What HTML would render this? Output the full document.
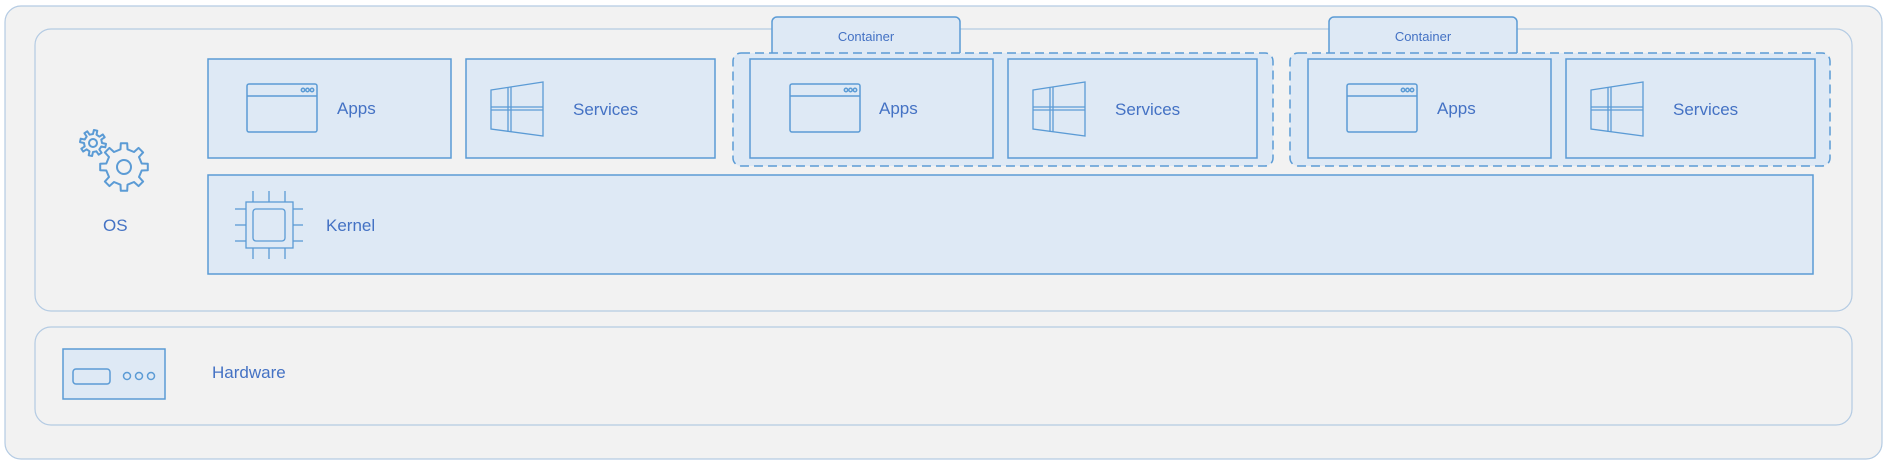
<!DOCTYPE html>
<html><head><meta charset="utf-8"><style>
html,body{margin:0;padding:0;background:#fff;width:1889px;height:465px;overflow:hidden}
svg{display:block}
text{font-family:"Liberation Sans",sans-serif;fill:#4472c4}
</style></head><body>
<svg width="1889" height="465" viewBox="0 0 1889 465" xmlns="http://www.w3.org/2000/svg">
<defs>
<g id="win" fill="none" stroke="#5b9bd5" stroke-width="1.3">
<polygon points="0,8 52,0 52,54 0,47"/>
<line x1="17" y1="5" x2="17" y2="50"/><line x1="20" y1="5" x2="20" y2="50"/>
<line x1="0" y1="25" x2="52" y2="25"/><line x1="0" y1="28" x2="52" y2="28"/>
</g>
<g id="app" fill="none" stroke="#5b9bd5" stroke-width="1.5">
<rect x="0" y="0" width="70" height="48" rx="2"/>
<line x1="0" y1="12" x2="70" y2="12"/>
<circle cx="56" cy="6" r="1.7"/><circle cx="60.5" cy="6" r="1.7"/><circle cx="65" cy="6" r="1.7"/>
</g>
</defs>
<rect x="5" y="6" width="1877" height="453" rx="16" fill="#f2f2f2" stroke="#b4cbe3" stroke-width="1.2"/>
<rect x="35" y="29" width="1817" height="282" rx="16" fill="#f2f2f2" stroke="#b4cbe3" stroke-width="1.2"/>
<rect x="35" y="327" width="1817" height="98" rx="16" fill="#f2f2f2" stroke="#b4cbe3" stroke-width="1.2"/>

<path d="M772,53 V22 a5,5 0 0 1 5,-5 H955 a5,5 0 0 1 5,5 V53" fill="#dee9f5" stroke="#5b9bd5" stroke-width="1.5"/>
<text x="866" y="41" font-size="13" text-anchor="middle">Container</text>
<rect x="733" y="53" width="540" height="113" rx="8" fill="#dee9f5" stroke="#5b9bd5" stroke-width="1.5" stroke-dasharray="9,5"/>
<path d="M1329,53 V22 a5,5 0 0 1 5,-5 H1512 a5,5 0 0 1 5,5 V53" fill="#dee9f5" stroke="#5b9bd5" stroke-width="1.5"/>
<text x="1423" y="41" font-size="13" text-anchor="middle">Container</text>
<rect x="1290" y="53" width="540" height="113" rx="8" fill="#dee9f5" stroke="#5b9bd5" stroke-width="1.5" stroke-dasharray="9,5"/>

<g fill="#dee9f5" stroke="#5b9bd5" stroke-width="1.5">
<rect x="208" y="59" width="243" height="99"/>
<rect x="466" y="59" width="249" height="99"/>
<rect x="750" y="59" width="243" height="99"/>
<rect x="1008" y="59" width="249" height="99"/>
<rect x="1308" y="59" width="243" height="99"/>
<rect x="1566" y="59" width="249" height="99"/>
<rect x="208" y="175" width="1605" height="99"/>
</g>

<use href="#app" x="247" y="84"/><text x="337" y="114" font-size="17">Apps</text>
<use href="#win" x="491" y="82"/><text x="573" y="115" font-size="17">Services</text>
<use href="#app" x="790" y="84"/><text x="879" y="114" font-size="17">Apps</text>
<use href="#win" x="1033" y="82"/><text x="1115" y="115" font-size="17">Services</text>
<use href="#app" x="1347" y="84"/><text x="1437" y="114" font-size="17">Apps</text>
<use href="#win" x="1591" y="82"/><text x="1673" y="115" font-size="17">Services</text>

<g id="gears" fill="none" stroke="#5b9bd5" stroke-width="2">
<circle cx="93" cy="143" r="10"/>
<circle cx="93" cy="143" r="4"/>
<circle cx="124" cy="167" r="20"/>
<circle cx="124" cy="167" r="7"/>
</g>
<text x="103" y="231" font-size="17">OS</text>

<g fill="none" stroke="#5b9bd5" stroke-width="1.3">
<rect x="246" y="202" width="47" height="46"/>
<rect x="253" y="209" width="32" height="32" rx="3"/>
<line x1="253" y1="191" x2="253" y2="202"/><line x1="269" y1="191" x2="269" y2="202"/><line x1="285" y1="191" x2="285" y2="202"/>
<line x1="253" y1="248" x2="253" y2="259"/><line x1="269" y1="248" x2="269" y2="259"/><line x1="285" y1="248" x2="285" y2="259"/>
<line x1="235" y1="209" x2="246" y2="209"/><line x1="235" y1="225" x2="246" y2="225"/><line x1="235" y1="241" x2="246" y2="241"/>
<line x1="293" y1="209" x2="303" y2="209"/><line x1="293" y1="225" x2="303" y2="225"/><line x1="293" y1="241" x2="303" y2="241"/>
</g>
<text x="326" y="231" font-size="17">Kernel</text>

<g fill="none" stroke="#5b9bd5" stroke-width="1.5">
<rect x="63" y="349" width="102" height="50" fill="#dee9f5"/>
<rect x="73" y="369" width="37" height="15" rx="3"/>
<circle cx="127" cy="376" r="3.5"/><circle cx="139" cy="376" r="3.5"/><circle cx="151" cy="376" r="3.5"/>
</g>
<text x="212" y="378" font-size="17">Hardware</text>
</svg>
<script>
(function(){
function gear(cx,cy,ri,ro,n,rot){
 var pts=[],step=2*Math.PI/n;
 for(var i=0;i<n;i++){
  var a=rot+i*step;
  var d=[[-0.5,ri],[-0.3,ro],[0.3-0.0,ro],[0.5,ri]];
  for(var j=0;j<4;j++){var t=a+d[j][0]*step*0.6; if(j==0)t=a-0.25*step; if(j==1)t=a-0.17*step; if(j==2)t=a+0.17*step; if(j==3)t=a+0.25*step;
   pts.push((cx+d[j][1]*Math.cos(t)).toFixed(1)+","+(cy+d[j][1]*Math.sin(t)).toFixed(1));}
 }
 return pts.join(" ");
}
var g=document.getElementById("gears");
var ns="http://www.w3.org/2000/svg";
g.innerHTML="";
function poly(p){var e=document.createElementNS(ns,"polygon");e.setAttribute("points",p);e.setAttribute("stroke-linejoin","round");g.appendChild(e);}
function circ(x,y,r){var e=document.createElementNS(ns,"circle");e.setAttribute("cx",x);e.setAttribute("cy",y);e.setAttribute("r",r);g.appendChild(e);}
poly(gear(93,143,9,13,8,0.2));circ(93,143,4);
poly(gear(124,167,18,24,8,0));circ(124,167,7);
})();
</script>
</body></html>
